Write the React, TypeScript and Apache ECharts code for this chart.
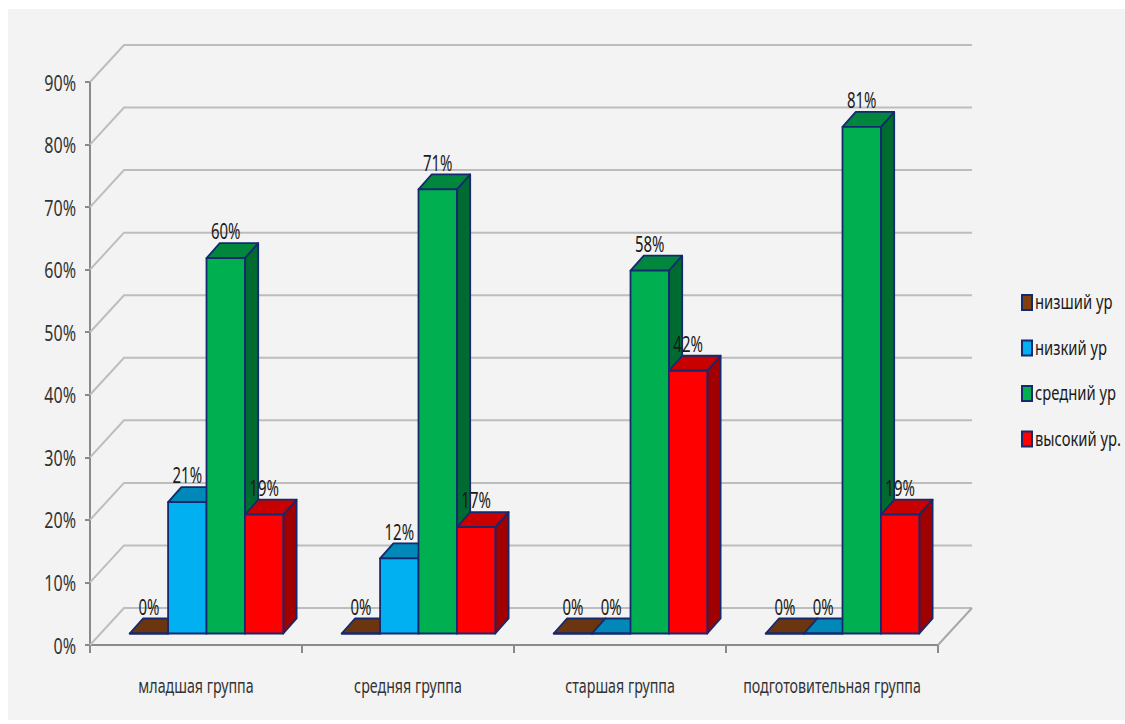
import React, { useEffect, useRef } from "react";
import * as echarts from "echarts";

const categories = ["младшая группа", "средняя группа", "старшая группа", "подготовительная группа"];
const lowestValues = [0, 0, 0, 0];
const lowValues = [21, 12, 0, 0];
const middleValues = [60, 71, 58, 81];
const highValues = [19, 17, 42, 19];
const gridTicks = [0, 10, 20, 30, 40, 50, 60, 70, 80, 90];

const seriesDefs = [
  { name: "низший ур", values: lowestValues, front: "#7f3f10", top: "#6b3510", side: "#5a2c0c" },
  { name: "низкий ур", values: lowValues, front: "#00b0f0", top: "#0088b8", side: "#00709a" },
  { name: "средний ур", values: middleValues, front: "#00b050", top: "#00873d", side: "#006b30" },
  { name: "высокий ур.", values: highValues, front: "#ff0000", top: "#c80000", side: "#a00000" },
];

const FONT = '"Noto Sans", sans-serif';
const EDGE = "#14296e";
const DEPTH_X = 34;
const DEPTH_Y = 37;
const BAR_W = 38.4;
const BAR_SHIFT_X = 10.5;
const BAR_SHIFT_Y = 11.5;
const BAR_DX = 13.3;
const BAR_DY = 15;
const LEGEND_X = 1021;
const LEGEND_Y = [302.5, 348, 393.5, 439];

const narrowText = (text: string, x: number, y: number, size: number, scaleX: number, align: string, fill: string) => ({
  type: "text",
  x,
  y,
  scaleX,
  z2: 50,
  style: { text, x: 0, y: 0, fill, font: `${size}px ${FONT}`, align, verticalAlign: "middle" },
});

export default function App() {
  const ref = useRef<HTMLDivElement>(null);
  useEffect(() => {
    const chart = echarts.init(ref.current!, undefined, { renderer: "svg" });
    const barSeries = seriesDefs.map((s, si) => ({
      type: "custom",
      name: s.name,
      z: 5,
      data: s.values.map((v, i) => [i, v]),
      encode: { x: 0, y: 1 },
      renderItem: (_p: any, api: any) => {
        const idx = api.value(0);
        const val = api.value(1);
        const [cx, yTop0] = api.coord([idx, val]);
        const [, yBase0] = api.coord([idx, 0]);
        const x0 = cx + BAR_SHIFT_X + (si - 2) * BAR_W;
        const x1 = x0 + BAR_W;
        const yB = yBase0 - BAR_SHIFT_Y;
        const yT = yTop0 - BAR_SHIFT_Y;
        const line = { stroke: EDGE, lineWidth: 1.8, lineJoin: "round" };
        const poly = (points: number[][], fill: string) => ({
          type: "polygon",
          shape: { points },
          style: { fill, ...line },
        });
        return {
          type: "group",
          children: [
            poly([[x1, yB], [x1 + BAR_DX, yB - BAR_DY], [x1 + BAR_DX, yT - BAR_DY], [x1, yT]], s.side),
            poly([[x0, yT], [x0 + BAR_DX, yT - BAR_DY], [x1 + BAR_DX, yT - BAR_DY], [x1, yT]], s.top),
            poly([[x0, yB], [x1, yB], [x1, yT], [x0, yT]], s.front),
            narrowText(val + "%", (x0 + x1) / 2, yT - BAR_DY - 12, 22, 0.68, "center", "#1a1a1a"),
          ],
        };
      },
    }));

    chart.setOption({
      animation: false,
      backgroundColor: "#ffffff",
      graphic: [
        {
          type: "rect",
          z: -10,
          shape: { x: 8, y: 9, width: 1117, height: 711 },
          style: { fill: "#f3f3f3" },
        },
        ...seriesDefs.flatMap((s, i) => [
          {
            type: "rect",
            z: 10,
            shape: { x: LEGEND_X + 1, y: LEGEND_Y[i] - 7.5, width: 10, height: 15 },
            style: { fill: s.front, stroke: EDGE, lineWidth: 2 },
          },
          {
            type: "text",
            z: 10,
            x: LEGEND_X + 14,
            y: LEGEND_Y[i] - 1,
            scaleX: 0.74,
            style: { text: s.name, x: 0, y: 0, fill: "#1a1a1a", font: `20px ${FONT}`, align: "left", verticalAlign: "middle" },
          },
        ]),
      ],
      grid: { left: 90, top: 82, width: 848, height: 563 },
      xAxis: {
        type: "category",
        data: categories,
        axisLine: { lineStyle: { color: "#8a8a8a", width: 2 } },
        axisTick: { show: true, interval: 0, length: 8, lineStyle: { color: "#8a8a8a", width: 2 } },
        axisLabel: { show: false },
      },
      yAxis: {
        type: "value",
        min: 0,
        max: 90,
        interval: 10,
        axisLine: { show: true, lineStyle: { color: "#8a8a8a", width: 2 } },
        axisTick: { show: true, length: 5, lineStyle: { color: "#8a8a8a", width: 2 } },
        splitLine: { show: false },
        axisLabel: { show: false },
      },
      series: [
        {
          type: "custom",
          name: "grid3d",
          z: 1,
          silent: true,
          clip: false,
          data: gridTicks.map((t) => [0, t]),
          encode: { y: 1 },
          renderItem: (p: any, api: any) => {
            const t = api.value(1);
            const sys = p.coordSys;
            const y = api.coord([0, t])[1];
            const x0 = sys.x;
            const x1 = sys.x + sys.width;
            const children: any[] = [
              {
                type: "polyline",
                shape: {
                  points: [
                    [x0, y],
                    [x0 + DEPTH_X, y - DEPTH_Y],
                    [x1 + DEPTH_X, y - DEPTH_Y],
                  ],
                },
                style: { fill: "none", stroke: "#bdbdbd", lineWidth: 2 },
              },
              narrowText(t + "%", x0 - 14, y, 22, 0.73, "right", "#333333"),
            ];
            if (t === 0) {
              children.push({
                type: "line",
                shape: { x1, y1: y, x2: x1 + DEPTH_X, y2: y - DEPTH_Y },
                style: { stroke: "#a8a8a8", lineWidth: 2 },
              });
            }
            return { type: "group", children };
          },
        },
        {
          type: "custom",
          name: "categoryLabels",
          z: 1,
          silent: true,
          clip: false,
          data: categories.map((_c, i) => [i, 0]),
          encode: { x: 0, y: 1 },
          renderItem: (_p: any, api: any) => {
            const i = api.value(0);
            const [x, y] = api.coord([i, 0]);
            return narrowText(categories[i], x, y + 41, 19, 0.75, "center", "#333333");
          },
        },
        ...barSeries,
      ],
    });
    return () => chart.dispose();
  }, []);
  return (
    <div
      ref={ref}
      style={{ position: "absolute", left: 0, top: 0, width: 1125, height: 724 }}
    />
  );
}
